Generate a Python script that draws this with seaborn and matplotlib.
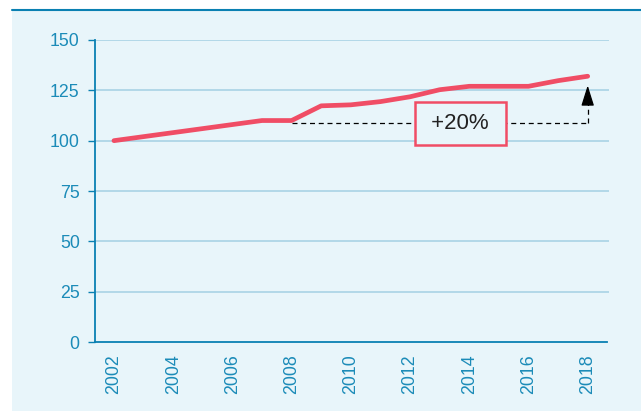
import matplotlib
matplotlib.use('Agg')
import matplotlib.pyplot as plt
import matplotlib.patches as mpatches
import pandas as pd
import seaborn as sns

# Index values (2002 = 100)
years = [2002, 2003, 2004, 2005, 2006, 2007, 2008, 2009, 2010,
         2011, 2012, 2013, 2014, 2015, 2016, 2017, 2018]
values = [100, 102, 104, 106, 108, 110, 110, 117.3, 117.8,
          119.4, 121.8, 125.3, 127, 127, 127, 129.8, 132]
year_ticks = list(range(2002, 2019, 2))
y_ticks = [0, 25, 50, 75, 100, 125, 150]
note = '+20%'
base_level = 108.6
arrow_top = 128.8

df = pd.DataFrame({'year': years, 'value': values})

sns.set_theme(style='white')
plt.rcParams['font.family'] = ['Liberation Sans', 'DejaVu Sans']

bg = '#e8f5fa'
blue = '#0a80b2'
tick_blue = '#1b8bb8'
grid_blue = '#a9d3e5'
red = '#f04d65'

fig = plt.figure(figsize=(6.41, 4.11), dpi=100)
fig.patch.set_facecolor('white')
fig.patches.append(mpatches.Rectangle((12 / 641, 0), 1, 1 - 11 / 411,
                                      transform=fig.transFigure, facecolor=bg,
                                      edgecolor='none', zorder=-10))
fig.add_artist(plt.Line2D([12 / 641, 1], [1 - 10.5 / 411, 1 - 10.5 / 411],
                          transform=fig.transFigure, color=blue, lw=1.5))

ax = fig.add_axes([95 / 641, 1 - 342 / 411, (609 - 95) / 641, (342 - 40) / 411])
ax.set_facecolor('none')

sns.lineplot(data=df, x='year', y='value', ax=ax, color=red, lw=3.4,
             solid_capstyle='round', zorder=5)

ax.set_xlim(2001.36, 2018.72)
ax.set_ylim(0, 150)
ax.set_yticks(y_ticks)
ax.set_xticks(year_ticks)
ax.set_xticklabels([str(y) for y in year_ticks], rotation=90)
ax.set_xlabel('')
ax.set_ylabel('')
for t in y_ticks[1:]:
    ax.axhline(t, color=grid_blue, lw=1.2, zorder=1)

for s in ['top', 'right']:
    ax.spines[s].set_visible(False)
for s in ['left', 'bottom']:
    ax.spines[s].set_color(blue)
    ax.spines[s].set_linewidth(1.3)
ax.spines['bottom'].set_bounds(2001.36, 2018.65)
ax.tick_params(axis='y', length=5, width=1, color=blue, labelcolor=tick_blue,
               labelsize=12.8, pad=6, left=True)
ax.tick_params(axis='x', length=0, labelcolor=tick_blue, labelsize=12.8, pad=9)

# dashed bracket with arrow
ax.plot([2008, 2018], [base_level, base_level], color='black', lw=0.9,
        ls=(0, (4, 3)), zorder=4)
ax.plot([2018, 2018], [base_level, arrow_top - 6], color='black', lw=0.9,
        ls=(0, (4, 3)), zorder=4)
ax.annotate('', xy=(2018, arrow_top), xytext=(2018, arrow_top - 7.5),
            arrowprops=dict(arrowstyle='-|>,head_length=1.05,head_width=0.33',
                            color='black', lw=0.9), zorder=4)
ax.text(2013.7, base_level, f' {note} ', ha='center', va='center', fontsize=16,
        color='#222222', zorder=6,
        bbox=dict(boxstyle='square,pad=0.48', facecolor=bg, edgecolor=red, lw=1.8))

fig.savefig('out.png', dpi=100)
